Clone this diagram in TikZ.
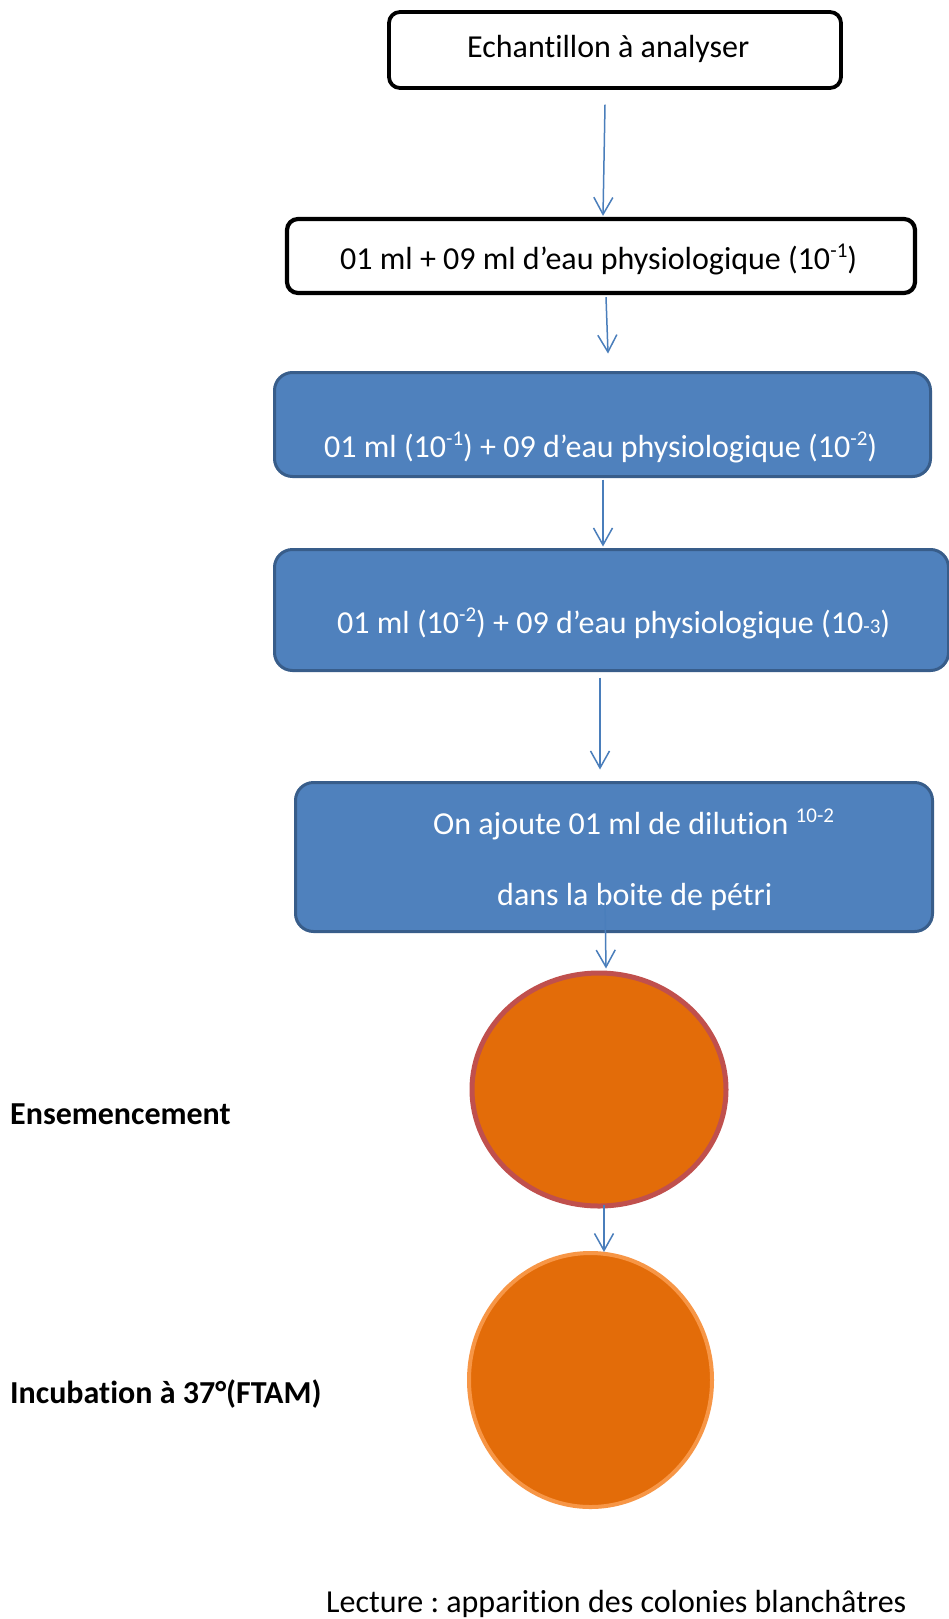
\documentclass[tikz,border=0pt]{standalone}
\usepackage{fontspec}
\setmainfont{Carlito}[Ligatures={NoCommon}]
\usetikzlibrary{arrows.meta,shapes.geometric}
\definecolor{boxblue}{HTML}{4F81BD}
\definecolor{boxedge}{HTML}{385D8A}
\definecolor{arrowblue}{HTML}{4A7EBB}
\definecolor{orangefill}{HTML}{E36C09}
\definecolor{redring}{HTML}{C0504D}
\definecolor{orangering}{HTML}{F79646}
\newcommand\supr[1]{\raisebox{0.36em}{\fontsize{21}{21}\selectfont #1}}
\newcommand\smallnum[1]{{\fontsize{21}{21}\selectfont #1}}
\frenchspacing
\tikzset{
  whitebox/.style={draw=black, fill=white, rounded corners=11pt, inner sep=0pt},
  bluebox/.style={draw=boxedge, fill=boxblue, line width=3pt, rounded corners=18pt, inner sep=0pt},
  txt/.style={anchor=base west, inner sep=0pt, font=\fontsize{32}{38}\selectfont},
  wtxt/.style={txt, text=white},
  dish/.style={ellipse, fill=orangefill, inner sep=0pt},
  arr/.style={draw=arrowblue, line width=1.5pt, -{Straight Barb[length=17pt,width=19pt,line width=1.5pt]}}
}
\begin{document}
\begin{tikzpicture}[x=1pt,y=-1pt]
\useasboundingbox (0,0) rectangle (949,1619);
\fill[white] (0,0) rectangle (949,1619);
\begin{scope}
\clip (0,0) rectangle (949,1619);
% boxes
\node[whitebox, line width=3.8pt, minimum width=452pt, minimum height=76pt] (b1) at (615,50) {};
\node[whitebox, line width=4.2pt, minimum width=628pt, minimum height=74pt] (b2) at (601,256) {};
\node[bluebox, minimum width=656pt, minimum height=104pt] (b3) at (602.5,424.5) {};
\node[bluebox, minimum width=674pt, minimum height=121pt] (b4) at (611.5,610) {};
\node[bluebox, minimum width=637pt, minimum height=149pt] (b5) at (614,857) {};
% dishes
\node[dish, draw=redring, line width=5pt, minimum width=254pt, minimum height=233pt] (c1) at (599,1089.5) {};
\node[dish, draw=orangering, line width=4pt, minimum width=243pt, minimum height=254pt] (c2) at (590.5,1380) {};
% texts
\node[txt] (t1) at (467,57) {Echantillon à analyser};
\node[txt] (t2) at (340,269) {01 ml + 09 ml d’eau physiologique (10\supr{-1})};
\node[wtxt] (t3) at (324,457) {01 ml (10\supr{-1}) + 09 d’eau physiologique (10\supr{-2})};
\node[wtxt] (t4) at (337,633) {01 ml (10\supr{-2}) + 09 d’eau physiologique (10\smallnum{-3})};
\node[wtxt] (t5a) at (433,834) {On ajoute 01 ml de dilution \supr{10-2}};
\node[wtxt] (t5b) at (497,905) {dans la boite de pétri};
\node[txt, font=\fontsize{32}{38}\selectfont\bfseries] (l1) at (10,1124) {Ensemencement};
\node[txt, font=\fontsize{32}{38}\selectfont\bfseries] (l2) at (10,1403) {Incubation à 37°(FTAM)};
\node[txt] (l3) at (326,1612) {Lecture : apparition des colonies blanchâtres};
% connectors
\draw[arr] ([shift={(-10,14.75)}]b1.south) -- ([shift={(2,-1)}]b2.north);
\draw[arr] ([shift={(5,2)}]b2.south) -- ([shift={(5.5,-17.5)}]b3.north);
\draw[arr] ([shift={(0.5,1.5)}]b3.south) -- ([shift={(-8.5,-1.5)}]b4.north);
\draw[arr] ([shift={(-11.5,5.5)}]b4.south) -- ([shift={(-14,-11.5)}]b5.north);
\draw[arr] ([shift={(-9,41)}]b5.center) -- ([shift={(7,-2)}]c1.north);
\draw[arr] ([shift={(5,-4)}]c1.south) -- ([shift={(13.5,1)}]c2.north);
\end{scope}
\end{tikzpicture}
\end{document}
